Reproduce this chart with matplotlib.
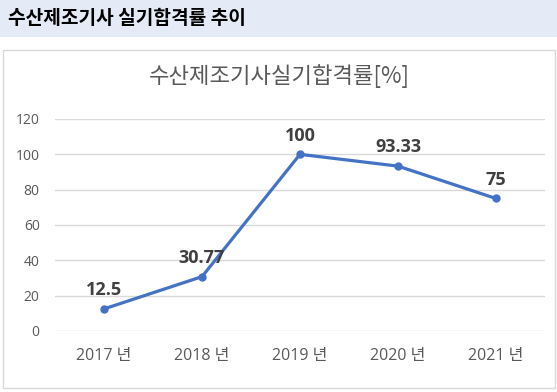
import matplotlib.pyplot as plt
from matplotlib.patches import Rectangle

plt.rcParams['font.family'] = ['Open Sans', 'Noto Sans CJK KR', 'DejaVu Sans']

years = ['2017 년', '2018 년', '2019 년', '2020 년', '2021 년']
rates = [12.5, 30.77, 100, 93.33, 75]
rate_labels = ['12.5', '30.77', '100', '93.33', '75']

W, H = 557, 392
fig = plt.figure(figsize=(W / 100, H / 100), dpi=100)
kr = ['Noto Sans CJK KR', 'DejaVu Sans']

# header band and chart frame
fig.add_artist(Rectangle((0, 1 - 37 / H), 1, 37 / H, transform=fig.transFigure,
                         facecolor='#E4EAF6', edgecolor='none', zorder=-5))
fig.add_artist(Rectangle((3 / W, 1 - 388 / H), 552 / W, 338 / H, transform=fig.transFigure,
                         facecolor='white', edgecolor='#D9D9D9', lw=1, zorder=-5))
fig.text(8 / W, 1 - 19 / H, '수산제조기사 실기합격률 추이', fontsize=13.8, fontweight='bold',
         color='black', va='center', ha='left', family=kr)
fig.text(279 / W, 1 - 76 / H, '수산제조기사실기합격률[%]', fontsize=16, color='#595959',
         va='center', ha='center', family=kr)

ax = fig.add_axes([55 / W, 1 - 331 / H, 490 / W, 212 / H])
x = range(len(years))
ax.plot(x, rates, color='#4472C4', lw=2.3, marker='o', ms=5, zorder=3)
for xi, v, lab in zip(x, rates, rate_labels):
    ax.annotate(lab, (xi, v), xytext=(0, 7), textcoords='offset points', ha='center',
                va='bottom', fontsize=13, fontweight='bold', color='#404040')

ax.set_xlim(-0.5, len(years) - 0.5)
ax.set_ylim(0, 120)
ax.set_yticks(range(0, 121, 20))
ax.set_xticks(list(x))
ax.set_xticklabels(years)
ax.grid(axis='y', color='#D9D9D9', lw=1)
ax.set_axisbelow(True)
for s in ax.spines.values():
    s.set_visible(False)
ax.tick_params(length=0, colors='#595959', labelsize=10)
ax.tick_params(axis='x', pad=12, labelsize=11.5)
ax.tick_params(axis='y', pad=11)
ax.patch.set_alpha(0)

fig.savefig('out.png', dpi=100)
